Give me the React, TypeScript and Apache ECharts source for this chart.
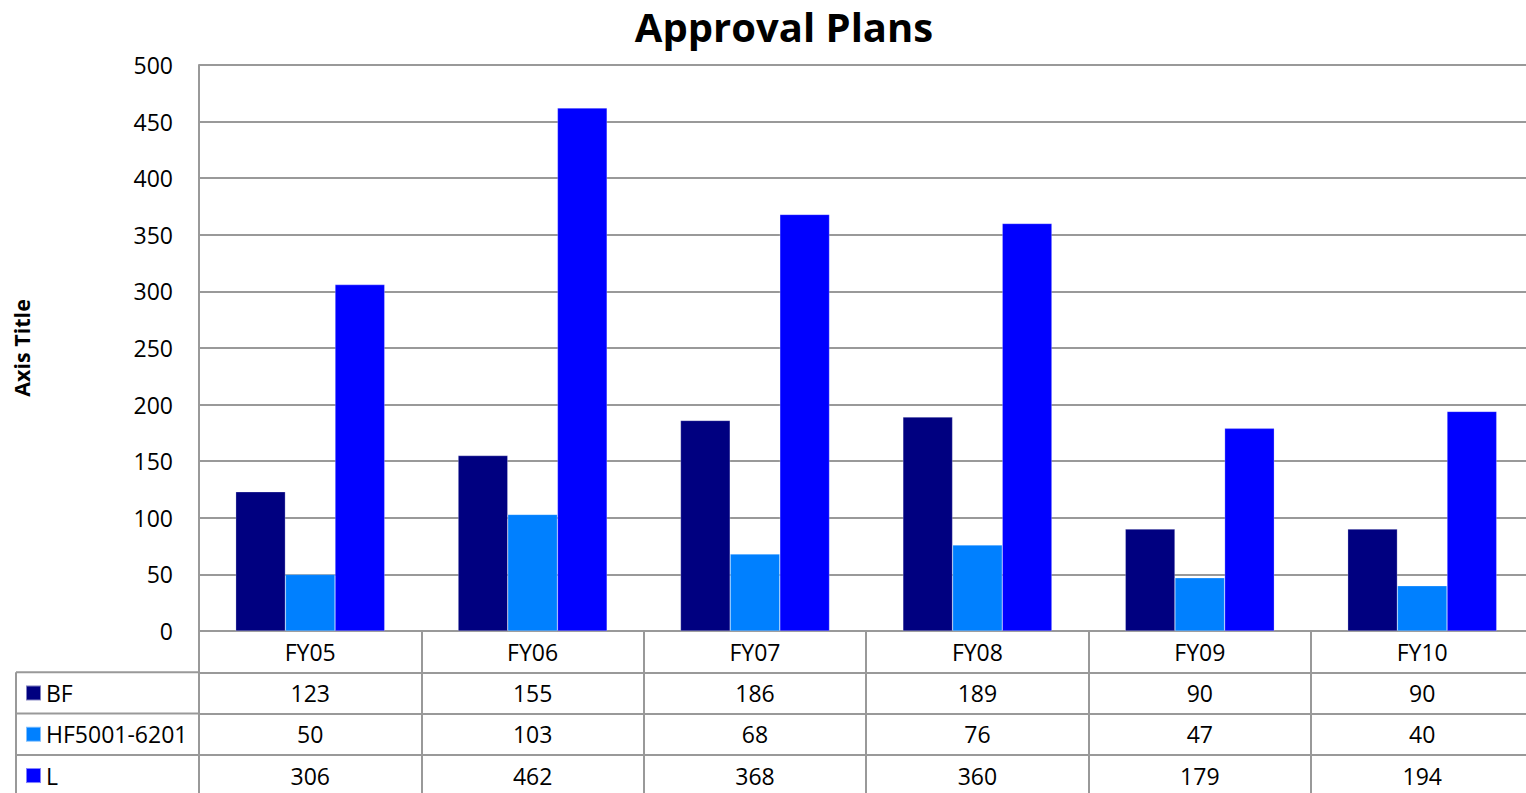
import React, { useEffect, useRef } from "react";
import * as echarts from "echarts";

const categories = ["FY05", "FY06", "FY07", "FY08", "FY09", "FY10"];
const seriesNames = ["BF", "HF5001-6201", "L"];
const bfValues = [123, 155, 186, 189, 90, 90];
const hfValues = [50, 103, 68, 76, 47, 40];
const lValues = [306, 462, 368, 360, 179, 194];
const colors = ["#000080", "#0080FF", "#0000FF"];

const FONT = "'Open Sans', 'Liberation Sans', sans-serif";
const GRID_COLOR = "#999999";
const ROW_H = 41.3;

export default function App() {
  const ref = useRef<HTMLDivElement>(null);
  useEffect(() => {
    if (!ref.current) return;
    const chart = echarts.init(ref.current, undefined, { renderer: "svg" });
    const rows = [null, bfValues, hfValues, lValues];
    const xAxes = rows.map((vals, k) => ({
      type: "category",
      data: categories,
      position: "bottom",
      offset: k * ROW_H,
      gridIndex: 0,
      axisLine: { show: true, lineStyle: { color: GRID_COLOR, width: 2 } },
      axisTick: {
        show: true,
        interval: 0,
        length: ROW_H,
        lineStyle: { color: GRID_COLOR, width: 2 },
      },
      axisLabel: {
        show: true,
        interval: 0,
        margin: ROW_H / 2,
        verticalAlign: "middle",
        color: "#000",
        fontSize: 23,
        fontFamily: FONT,
        formatter: (v: string, i: number) => (vals ? String(vals[i]) : v),
      },
      splitLine: { show: false },
    }));
    const tableTop = 631;
    const leftX = 16;
    const axisX = 199;
    chart.setOption({
      animation: false,
      title: {
        text: "Approval Plans",
        left: 784,
        top: 4,
        textAlign: "center",
        padding: 0,
        textStyle: { fontSize: 40, lineHeight: 44, fontWeight: "bold", color: "#000", fontFamily: FONT },
      },
      legend: seriesNames.map((name, i) => ({
        orient: "vertical",
        left: 25,
        top: tableTop + (i + 1) * ROW_H,
        padding: 0,
        itemGap: 0,
        itemWidth: 15,
        itemHeight: 15,
        icon: "rect",
        data: [name],
        selectedMode: false,
        textStyle: { fontSize: 23, lineHeight: ROW_H, color: "#000", fontFamily: FONT },
      })),
      grid: { left: 199, top: 65, right: 11.6, bottom: 162, containLabel: false, outerBoundsMode: "none" },
      xAxis: xAxes,
      yAxis: {
        type: "value",
        min: 0,
        max: 500,
        interval: 50,
        name: "Axis Title",
        nameLocation: "middle",
        nameRotate: 90,
        nameGap: 167,
        nameTextStyle: { fontSize: 21.5, fontWeight: "bold", color: "#000", fontFamily: FONT },
        axisLine: { show: true, lineStyle: { color: GRID_COLOR, width: 2 } },
        axisTick: { show: false },
        axisLabel: { color: "#000", fontSize: 23, margin: 26, fontFamily: FONT },
        splitLine: { show: true, lineStyle: { color: GRID_COLOR, width: 2 } },
      },
      series: [bfValues, hfValues, lValues].map((vals, i) => ({
        name: seriesNames[i],
        type: "bar",
        data: vals,
        xAxisIndex: 0,
        barGap: "0%",
        barCategoryGap: "33%",
        itemStyle: { color: colors[i], borderColor: "rgba(255,255,255,0.5)", borderWidth: 0.5 },
      })),
      graphic: [
        ...[1, 2, 3].map((k) => ({
          type: "line",
          shape: { x1: leftX, y1: tableTop + k * ROW_H, x2: axisX, y2: tableTop + k * ROW_H },
          style: { stroke: GRID_COLOR, lineWidth: 2 },
        })),
        {
          type: "line",
          shape: { x1: leftX, y1: tableTop + ROW_H, x2: leftX, y2: 800 },
          style: { stroke: GRID_COLOR, lineWidth: 2 },
        },
      ],
    });
    return () => chart.dispose();
  }, []);
  return (
    <div style={{ position: "fixed", left: 0, top: 0, width: 1526, height: 793, overflow: "hidden", background: "#fff" }}>
      <div ref={ref} style={{ width: 1545, height: 793 }} />
    </div>
  );
}
